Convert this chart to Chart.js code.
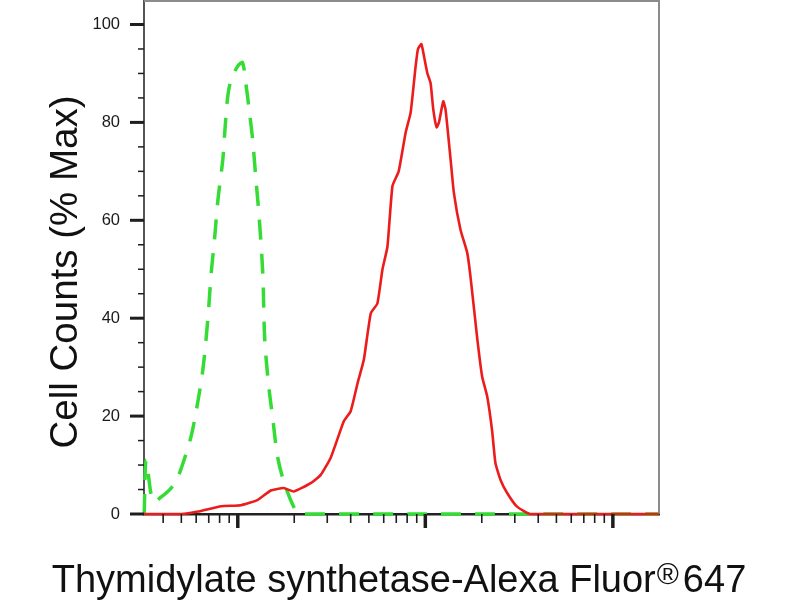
<!DOCTYPE html>
<html>
<head>
<meta charset="utf-8">
<script src="https://cdn.jsdelivr.net/npm/chart.js@4.4.0/dist/chart.umd.min.js"></script>
<style>
  body { margin: 0; background: #fff; }
  #wrap { width: 800px; height: 600px; }
</style>
</head>
<body>
<div id="wrap"><canvas id="chart" width="800" height="600"></canvas></div>
<script>
// isotype control (green dashed) - intensity on log axis, % max counts
const controlX = [31.7, 32.5, 35.3, 39.1, 44.1, 48.0, 53.1, 56.5, 60.0, 65.1, 69.2, 72.1, 75.1, 78.3, 83.2, 85.6, 88.4, 92.1, 100, 106, 111, 115, 120, 125, 130, 136, 139, 145, 154, 163, 177, 200, 212, 1000, 10000, 17600];
const controlY = [0, 11, 2.5, 3.5, 5.3, 7.6, 12.4, 16, 21, 29.4, 39.7, 49, 56, 64, 72.4, 79, 85.3, 88.7, 91.5, 92.2, 87.3, 82.6, 76.5, 68.3, 60.7, 49, 36.3, 27.4, 19.2, 11.7, 6.3, 1.2, 0, 0, 0, 0];

// stained sample (red)
const sampleX = [31.7, 49.9, 61.3, 81.5, 104, 128, 150, 176, 199, 245, 277, 313, 368, 400, 437, 470, 512, 555, 591, 628, 668, 721, 786, 835, 888, 914, 953, 984, 1026, 1067, 1103, 1149, 1182, 1246, 1282, 1364, 1420, 1541, 1672, 1741, 1890, 2011, 2138, 2271, 2365, 2515, 2731, 3085, 3630, 17600];
const sampleY = [0, 0, 0.5, 1.6, 1.8, 2.9, 4.8, 5.3, 4.6, 6.3, 8, 11.5, 19, 21, 27, 31.5, 41, 43, 50, 54.6, 67, 70, 78, 82, 91.5, 95, 96, 93.5, 90, 88, 82.6, 79, 80, 84.3, 82.6, 72.4, 65.6, 58, 53.4, 48.5, 36, 28, 24, 17, 10.4, 7, 4.3, 1.5, 0, 0];

const yTickLabels = [0, 20, 40, 60, 80, 100];
const xDecades = [10, 100, 1000, 10000];

const yTitle = 'Cell Counts (% Max)';
const xTitle = ['Thymidylate synthetase-Alexa Fluor', '®', '647'];

const FONT = "'Liberation Sans', Arial, sans-serif";

const toPoints = (xs, ys) => xs.map((v, i) => ({x: v, y: ys[i]}));

// frame on top/right of plot
const frame = {
  id: 'frame',
  beforeDatasetsDraw(chart) {
    const {ctx, chartArea: a} = chart;
    ctx.save();
    ctx.strokeStyle = '#8c8c8c';
    ctx.lineWidth = 2;
    ctx.beginPath();
    ctx.moveTo(a.left, a.top);
    ctx.lineTo(a.right, a.top);
    ctx.lineTo(a.right, a.bottom);
    ctx.stroke();
    ctx.restore();
  }
};

// long major / short minor tick marks + axis titles
const axisDecor = {
  id: 'axisDecor',
  afterDraw(chart) {
    const {ctx, chartArea: a, scales: {x, y}} = chart;
    ctx.save();
    ctx.strokeStyle = '#1e1e1e';
    for (let v = 0; v <= 100; v += 5) {
      const py = y.getPixelForValue(v);
      const major = v % 20 === 0;
      ctx.lineWidth = major ? 3 : 1.5;
      ctx.beginPath();
      ctx.moveTo(a.left - (major ? 14 : 6), py);
      ctx.lineTo(a.left, py);
      ctx.stroke();
    }
    xDecades.forEach(d => {
      for (let k = 1; k <= 9; k++) {
        const v = d * k;
        if (v < x.min || v > x.max) continue;
        const px = x.getPixelForValue(v);
        ctx.lineWidth = k === 1 ? 3.5 : 1.6;
        ctx.beginPath();
        ctx.moveTo(px, a.bottom);
        ctx.lineTo(px, a.bottom + (k === 1 ? 14 : 9));
        ctx.stroke();
      }
    });

    // titles
    ctx.fillStyle = '#111';
    ctx.textBaseline = 'alphabetic';

    ctx.save();
    ctx.translate(77, 272);
    ctx.rotate(-Math.PI / 2);
    ctx.font = '38.5px ' + FONT;
    ctx.textAlign = 'center';
    ctx.fillText(yTitle, 0, 0);
    ctx.restore();

    ctx.textAlign = 'left';
    ctx.font = '38px ' + FONT;
    const w1 = ctx.measureText(xTitle[0]).width;
    const w3 = ctx.measureText(xTitle[2]).width;
    ctx.font = '30px ' + FONT;
    const w2 = ctx.measureText(xTitle[1]).width;
    const gap = 5;
    let sx = 399 - (w1 + w2 + gap + w3) / 2;
    ctx.font = '38px ' + FONT;
    ctx.fillText(xTitle[0], sx, 592);
    ctx.font = '30px ' + FONT;
    ctx.fillText(xTitle[1], sx + w1 + 1, 584);
    ctx.font = '38px ' + FONT;
    ctx.fillText(xTitle[2], sx + w1 + w2 + gap, 592);
    ctx.restore();
  }
};

new Chart(document.getElementById('chart'), {
  type: 'line',
  data: {
    datasets: [
      {
        label: 'Thymidylate synthetase',
        data: toPoints(sampleX, sampleY),
        borderColor: '#ec1c1c',
        borderWidth: 2.6,
        tension: 0.15,
        pointRadius: 0,
        clip: false
      },
      {
        label: 'Control',
        data: toPoints(controlX, controlY),
        borderColor: '#35dc35',
        borderWidth: 3.5,
        borderDash: [20, 14],
        tension: 0.3,
        pointRadius: 0,
        clip: false
      }
    ]
  },
  options: {
    responsive: false,
    animation: false,
    layout: { padding: { top: 1, right: 141, bottom: 0, left: 0 } },
    plugins: { legend: { display: false }, tooltip: { enabled: false } },
    scales: {
      x: {
        type: 'logarithmic',
        min: 31.62,
        max: 17620,
        grid: { display: false },
        border: { display: true, color: '#222', width: 2.5 },
        ticks: { display: false },
        afterFit: s => { s.height = 86; s.paddingLeft = 0; s.paddingRight = 0; }
      },
      y: {
        min: 0,
        max: 104.8,
        grid: { display: false },
        border: { display: true, color: '#555', width: 2 },
        afterBuildTicks: s => { s.ticks = yTickLabels.map(v => ({value: v})); },
        ticks: {
          padding: 16,
          color: '#1a1a1a',
          font: { family: FONT, size: 16.5 }
        },
        afterFit: s => { s.width = 144; s.paddingTop = 0; s.paddingBottom = 0; }
      }
    }
  },
  plugins: [frame, axisDecor]
});
</script>
</body>
</html>
